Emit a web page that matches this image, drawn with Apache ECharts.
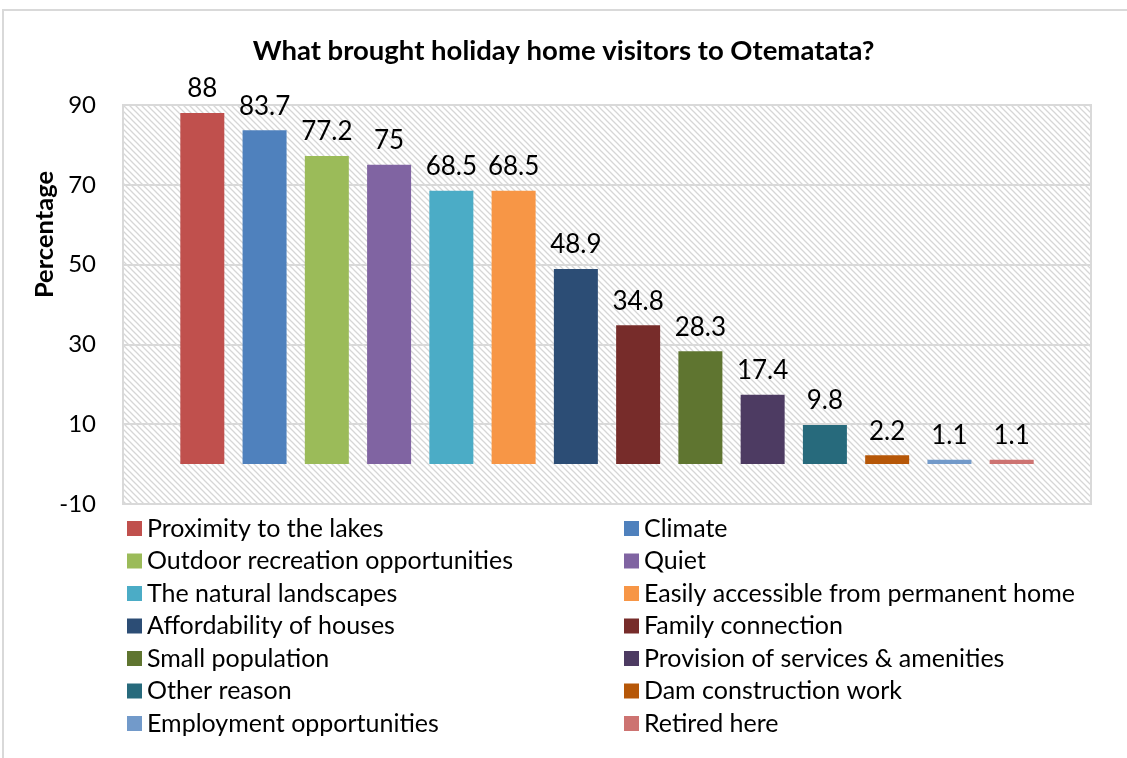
<!DOCTYPE html>
<html>
<head>
<meta charset="utf-8">
<script src="https://cdn.jsdelivr.net/npm/echarts@6/dist/echarts.min.js"></script>
<style>
  html, body { margin: 0; padding: 0; background: #fff; }
  #frame { position: absolute; left: 2px; top: 9px; width: 1300px; height: 900px;
           border: 2px solid #d9d9d9; box-sizing: border-box; }
  #main { position: absolute; left: 0; top: 0; width: 1127px; height: 758px; }
</style>
</head>
<body>
<div id="frame"></div>
<div id="main"></div>
<script>
// 各项原因名称、百分比、颜色（Excel 默认配色）
const reasons = [
  'Proximity to the lakes',
  'Climate',
  'Outdoor recreation opportunities',
  'Quiet',
  'The natural landscapes',
  'Easily accessible from permanent home',
  'Affordability of houses',
  'Family connection',
  'Small population',
  'Provision of services & amenities',
  'Other reason',
  'Dam construction work',
  'Employment opportunities',
  'Retired here'
];
const percentages = [88, 83.7, 77.2, 75, 68.5, 68.5, 48.9, 34.8, 28.3, 17.4, 9.8, 2.2, 1.1, 1.1];
const barColors = [
  '#C0504D', '#4F81BD', '#9BBB59', '#8064A2', '#4BACC6', '#F79646', '#2C4D75',
  '#772C2A', '#5F7530', '#4D3B62', '#276A7C', '#B65708', '#729ACA', '#CD7371'
];
const yTicks = [-10, 10, 30, 50, 70, 90];

const FONT = 'Lato, "Open Sans", sans-serif';

// 斜线填充背景
function hatchPattern() {
  const c = document.createElement('canvas');
  c.width = 6; c.height = 6;
  const ctx = c.getContext('2d');
  ctx.fillStyle = '#ffffff';
  ctx.fillRect(0, 0, 6, 6);
  ctx.strokeStyle = '#d6d6d6';
  ctx.lineWidth = 1.3;
  ctx.beginPath();
  ctx.moveTo(-1, -1); ctx.lineTo(7, 7);
  ctx.moveTo(-4, 2); ctx.lineTo(1, 7);
  ctx.moveTo(2, -4); ctx.lineTo(7, 1);
  ctx.stroke();
  return { image: c, repeat: 'repeat' };
}

const chart = echarts.init(document.getElementById('main'));

const series = reasons.map(function (name, i) {
  return {
    name: name,
    type: 'bar',
    data: [percentages[i]],
    barWidth: 44,
    barGap: '41.5%',
    itemStyle: { color: barColors[i] },
    label: {
      show: true,
      position: 'top',
      distance: 11,
      color: '#000',
      fontSize: 26,
      fontFamily: FONT
    }
  };
});

const legendText = { fontSize: 25, color: '#000', fontFamily: FONT, lineHeight: 25 };

chart.setOption({
  animation: false,
  title: {
    text: 'What brought holiday home visitors to Otematata?',
    left: 'center',
    top: 32,
    textStyle: { fontSize: 27.5, fontWeight: 'bold', color: '#000', fontFamily: FONT }
  },
  grid: {
    left: 123, top: 105, width: 968, height: 399,
    show: true,
    backgroundColor: hatchPattern(),
    borderColor: '#d9d9d9',
    borderWidth: 2
  },
  legend: [
    {
      orient: 'vertical', left: 122, top: 511,
      itemWidth: 15, itemHeight: 15, itemGap: 7.5,
      icon: 'rect',
      textStyle: legendText,
      data: reasons.filter(function (_, i) { return i % 2 === 0; })
    },
    {
      orient: 'vertical', left: 619, top: 511,
      itemWidth: 15, itemHeight: 15, itemGap: 7.5,
      icon: 'rect',
      textStyle: legendText,
      data: reasons.filter(function (_, i) { return i % 2 === 1; })
    }
  ],
  xAxis: {
    type: 'category',
    data: [''],
    axisLine: { show: false },
    axisTick: { show: false },
    axisLabel: { show: false }
  },
  yAxis: {
    type: 'value',
    min: yTicks[0],
    max: yTicks[yTicks.length - 1],
    interval: 20,
    axisLine: { show: false },
    axisTick: { show: false },
    axisLabel: { fontSize: 24, color: '#000', fontFamily: FONT, margin: 27 },
    splitLine: { lineStyle: { color: '#d9d9d9', width: 2 } }
  },
  graphic: [{
    type: 'text',
    left: 32,
    top: 171,
    rotation: Math.PI / 2,
    style: {
      text: 'Percentage',
      fontSize: 25.5,
      fontWeight: 'bold',
      fontFamily: FONT,
      fill: '#000'
    }
  }],
  series: series
});
</script>
</body>
</html>
